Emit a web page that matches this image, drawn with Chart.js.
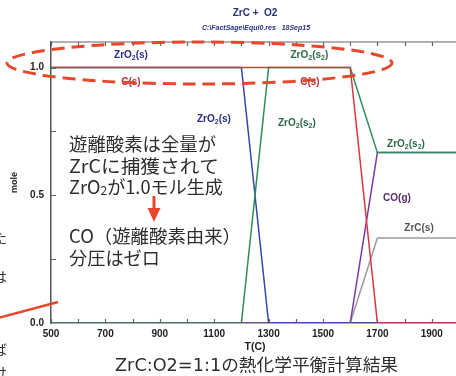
<!DOCTYPE html>
<html>
<head>
<meta charset="utf-8">
<script src="https://cdn.jsdelivr.net/npm/chart.js@4.4.1/dist/chart.umd.min.js"></script>
<style>
  html, body { margin: 0; padding: 0; background: #fff; overflow: hidden; }
  #wrap { position: relative; width: 470px; height: 376px; }
</style>
</head>
<body>
<div id="wrap"><canvas id="eqChart" width="470" height="376"></canvas></div>
<script>
// equilibrium amounts (mol) of each phase vs temperature
const temps = [500, 1200, 1300, 1600, 1700, 2000];
const zro2S = [1, 1, 0, 0, 0, 0];
const zro2S2 = [0, 0, 1, 1, 0.667, 0.667];
const carbonS = [1, 1, 1, 1, 0, 0];
const coGas = [0, 0, 0, 0, 0.667, 0.667];
const zrcS = [0, 0, 0, 0, 0.333, 0.333];

const xTickLabels = [500, 700, 900, 1100, 1300, 1500, 1700, 1900];
const yTickLabels = [0, 0.5, 1.0];

const noteLines = ["遊離酸素は全量が", "ZrCに捕獲されて", "ZrO2が1.0モル生成"];
const noteLines2 = ["CO（遊離酸素由来）", "分圧はゼロ"];
const caption = "ZrC:O2=1:1の熱化学平衡計算結果";

const RED = "#dc363c", GREEN = "#2f8c58", BLUE = "#3447ae", PURPLE = "#7b3aa6", GRAY = "#9a9a9a";
const MARK = "#e8472b";
const ARIAL = "'Liberation Sans', Arial, sans-serif";
const JP = "'Noto Sans CJK JP', sans-serif";

function series(values) {
  return values.map((v, i) => ({ x: temps[i], y: v }));
}

// chemical formula with subscript digits, parts = [[text, isSub], ...]
function drawChem(ctx, parts, cx, cy, color) {
  ctx.save();
  ctx.fillStyle = color;
  ctx.textBaseline = "alphabetic";
  ctx.textAlign = "left";
  const big = "bold 10px " + ARIAL;
  const small = "bold 7px " + ARIAL;
  let w = 0;
  parts.forEach(p => { ctx.font = p[1] ? small : big; w += ctx.measureText(p[0]).width; });
  let x = cx - w / 2;
  const base = cy + 3.5;
  parts.forEach(p => {
    ctx.font = p[1] ? small : big;
    ctx.fillText(p[0], x, p[1] ? base + 2 : base);
    x += ctx.measureText(p[0]).width;
  });
  ctx.restore();
}

// draws a text run squeezed or stretched to a given width
function fitText(ctx, pieces, x, y, width) {
  let w = 0;
  pieces.forEach(p => { ctx.font = p.font; w += ctx.measureText(p.text).width; });
  ctx.save();
  ctx.translate(x, y);
  ctx.scale(width / w, 1);
  let cx = 0;
  pieces.forEach(p => {
    ctx.font = p.font;
    ctx.fillText(p.text, cx, p.dy || 0);
    cx += ctx.measureText(p.text).width;
  });
  ctx.restore();
}

const ZRO2_S = [["ZrO", 0], ["2", 1], ["(s)", 0]];
const ZRO2_S2 = [["ZrO", 0], ["2", 1], ["(s", 0], ["2", 1], [")", 0]];

const overlay = {
  id: "overlay",
  afterDraw(chart) {
    const ctx = chart.ctx;
    const xs = chart.scales.x, ys = chart.scales.y;
    const a = chart.chartArea;
    ctx.save();

    // frame top line and inner tick marks
    ctx.strokeStyle = "#666";
    ctx.lineWidth = 1.2;
    ctx.beginPath();
    ctx.moveTo(a.left, a.top); ctx.lineTo(a.right, a.top);
    for (let t = 500; t <= 2000; t += 100) {
      const px = Math.round(xs.getPixelForValue(t)) + 0.5;
      ctx.moveTo(px, a.top); ctx.lineTo(px, a.top + 4);
      ctx.moveTo(px, a.bottom); ctx.lineTo(px, a.bottom - 4);
    }
    for (let v = 0.25; v <= 1.0; v += 0.25) {
      const py = Math.round(ys.getPixelForValue(v)) + 0.5;
      ctx.moveTo(a.left, py); ctx.lineTo(a.left + 5, py);
    }
    ctx.stroke();

    // title
    ctx.fillStyle = "#26327a";
    ctx.textAlign = "center";
    ctx.textBaseline = "middle";
    ctx.font = "bold 10px " + ARIAL;
    ctx.fillText("ZrC +  O2", 255, 13);
    ctx.font = "italic bold 7px " + ARIAL;
    ctx.fillText("C:\\FactSage\\Equi0.res   18Sep15", 256, 28);

    // phase labels
    const at = (t, v) => [xs.getPixelForValue(t), ys.getPixelForValue(v)];
    drawChem(ctx, ZRO2_S, ...at(794, 1.05), "#2a2f85");
    drawChem(ctx, [["C(s)", 0]], ...at(794, 0.945), "#b8323e");
    drawChem(ctx, ZRO2_S2, ...at(1450, 1.05), "#2a6a48");
    drawChem(ctx, [["C(s)", 0]], ...at(1452, 0.945), "#b8323e");
    drawChem(ctx, ZRO2_S, ...at(1099, 0.80), "#2a2f85");
    drawChem(ctx, ZRO2_S2, ...at(1404, 0.786), "#2a6a48");
    drawChem(ctx, ZRO2_S2, ...at(1805, 0.704), "#2a6a48");
    drawChem(ctx, [["CO(g)", 0]], ...at(1772, 0.49), "#5a2a6a");
    drawChem(ctx, [["ZrC(s)", 0]], ...at(1853, 0.373), "#555");

    // dashed ellipse round the 1.0 line
    ctx.strokeStyle = MARK;
    ctx.lineWidth = 3;
    ctx.setLineDash([13, 7]);
    ctx.beginPath();
    ctx.ellipse(199.5, 63, 192.5, 21, 0, 0, Math.PI * 2);
    ctx.stroke();
    ctx.setLineDash([]);

    // pointer line at left edge
    ctx.lineWidth = 2.5;
    ctx.beginPath();
    ctx.moveTo(-2, 318); ctx.lineTo(58, 302);
    ctx.stroke();

    // note text
    const f18 = "18px " + JP;
    ctx.fillStyle = "#2e2e2e";
    ctx.textAlign = "left";
    ctx.textBaseline = "middle";
    fitText(ctx, [{ text: noteLines[0], font: f18 }], 69, 144, 147);
    fitText(ctx, [{ text: noteLines[1], font: f18 }], 69, 166, 150);
    fitText(ctx, [
      { text: "ZrO", font: f18 },
      { text: "2", font: "12px " + JP, dy: 3 },
      { text: noteLines[2].slice(4), font: f18 }
    ], 69, 187, 154);
    fitText(ctx, [{ text: noteLines2[0], font: f18 }], 69, 236, 172);
    fitText(ctx, [{ text: noteLines2[1], font: f18 }], 69, 258, 91);

    // red arrow
    ctx.fillStyle = MARK;
    ctx.fillRect(152.5, 196, 3, 13);
    ctx.beginPath();
    ctx.moveTo(147.5, 208); ctx.lineTo(160.5, 208); ctx.lineTo(154, 222);
    ctx.closePath();
    ctx.fill();

    // caption under the chart
    ctx.fillStyle = "#2e2e2e";
    fitText(ctx, [{ text: caption, font: "17px 'DejaVu Sans', " + JP }], 115, 367, 283);

    // slide text cut off at the left edge
    ctx.font = "14px " + JP;
    ctx.fillText("た", -7, 238);
    ctx.fillText("は", -7, 277);
    ctx.fillText("ば", -7, 350);
    ctx.fillText("け", -7, 373);

    ctx.restore();
  }
};

const ds = (label, values, color) => ({
  label, data: series(values), borderColor: color, backgroundColor: color,
  borderWidth: 1.5, pointRadius: 0, tension: 0, fill: false
});

new Chart(document.getElementById("eqChart"), {
  type: "line",
  data: {
    datasets: [
      ds("C(s)", carbonS, RED),
      ds("ZrO2(s2)", zro2S2, GREEN),
      ds("ZrO2(s)", zro2S, BLUE),
      ds("CO(g)", coGas, PURPLE),
      ds("ZrC(s)", zrcS, GRAY)
    ]
  },
  options: {
    responsive: false,
    animation: false,
    layout: { padding: { top: 42, right: 11, left: 0, bottom: 0 } },
    plugins: { legend: { display: false }, tooltip: { enabled: false } },
    scales: {
      x: {
        type: "linear", min: 500, max: 2000,
        afterFit: s => { s.height = 53; },
        grid: { display: false, drawTicks: false },
        border: { display: true, color: "#555", width: 1.5 },
        ticks: {
          stepSize: 100, padding: 5, color: "#222", maxRotation: 0, autoSkip: false,
          font: { family: ARIAL, size: 10, weight: "bold" },
          callback: v => xTickLabels.includes(v) ? String(v) : ""
        },
        title: {
          display: true, text: "T(C)", color: "#222",
          font: { family: ARIAL, size: 10.5, weight: "bold" },
          padding: { top: 0, bottom: 23 }
        }
      },
      y: {
        min: 0, max: 1.1,
        afterFit: s => { s.width = 51; },
        grid: { display: false, drawTicks: false },
        border: { display: true, color: "#555", width: 1.5 },
        ticks: {
          stepSize: 0.25, padding: 7, color: "#222",
          font: { family: ARIAL, size: 10, weight: "bold" },
          callback: v => yTickLabels.some(t => Math.abs(t - v) < 1e-9) ? v.toFixed(1) : ""
        },
        title: {
          display: true, text: "mole", color: "#222",
          font: { family: ARIAL, size: 9, weight: "bold" },
          padding: { top: 9, bottom: 0 }
        }
      }
    }
  },
  plugins: [overlay]
});
</script>
</body>
</html>
